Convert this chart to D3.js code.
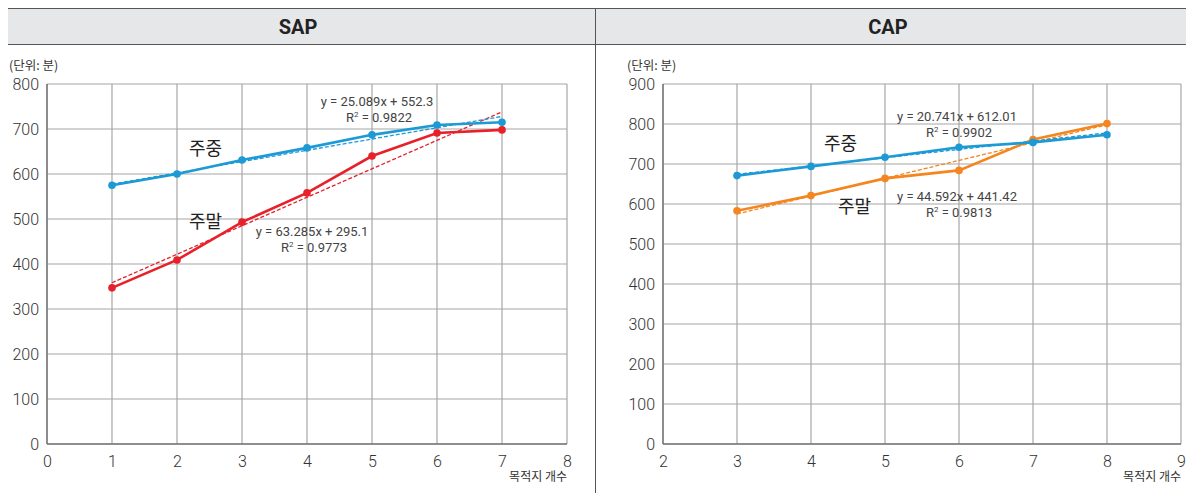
<!DOCTYPE html>
<html>
<head>
<meta charset="utf-8">
<script src="https://cdn.jsdelivr.net/npm/d3@7"></script>
<style>
  body { margin: 0; background: #fff; }
  svg { display: block; font-family: "Roboto", "Noto Sans CJK KR", sans-serif; }
</style>
</head>
<body>
<svg id="chart" width="1186" height="493"></svg>
<script>
// SAP data
const sapX = [1, 2, 3, 4, 5, 6, 7];
const sapWeekday = [575, 600, 631, 658, 687, 709, 715];
const sapWeekend = [347, 409, 493, 558, 640, 691, 698];
const sapWeekdayFit = [25.089, 552.3];
const sapWeekendFit = [63.285, 295.1];
const sapXTicks = [0, 1, 2, 3, 4, 5, 6, 7, 8];
const sapYTicks = [0, 100, 200, 300, 400, 500, 600, 700, 800];

// CAP data
const capX = [3, 4, 5, 6, 7, 8];
const capWeekday = [671, 694, 717, 742, 754, 773];
const capWeekend = [583, 621, 664, 684, 761, 801];
const capWeekdayFit = [20.741, 612.01];
const capWeekendFit = [44.592, 441.42];
const capXTicks = [2, 3, 4, 5, 6, 7, 8, 9];
const capYTicks = [0, 100, 200, 300, 400, 500, 600, 700, 800, 900];

const svg = d3.select("#chart");

// header band
svg.append("rect").attr("x", 8).attr("y", 8).attr("width", 1178).attr("height", 36)
  .attr("fill", "#e6e7e8");
svg.append("line").attr("x1", 8).attr("x2", 1186).attr("y1", 8.5).attr("y2", 8.5)
  .attr("stroke", "#555").attr("stroke-width", 1);
svg.append("line").attr("x1", 8).attr("x2", 1186).attr("y1", 44.5).attr("y2", 44.5)
  .attr("stroke", "#555").attr("stroke-width", 1);
svg.append("line").attr("x1", 595.5).attr("x2", 595.5).attr("y1", 8).attr("y2", 493)
  .attr("stroke", "#555").attr("stroke-width", 1);

function drawPanel(cfg) {
  const x = d3.scaleLinear().domain(cfg.xDomain).range([cfg.left, cfg.right]);
  const y = d3.scaleLinear().domain(cfg.yDomain).range([444, 84]);

  svg.append("text").attr("x", cfg.titleX).attr("y", 34)
    .attr("text-anchor", "middle").attr("font-size", 20).attr("font-weight", "bold")
    .attr("fill", "#222").text(cfg.title);

  svg.append("text").attr("x", cfg.unitX).attr("y", 70)
    .attr("font-size", 12.5).attr("fill", "#333")
    .attr("font-family", "'Noto Sans CJK KR', sans-serif").text("(단위: 분)");

  const g = svg.append("g");

  // grid
  g.selectAll(".vg").data(cfg.xTicks).join("line")
    .attr("x1", d => x(d)).attr("x2", d => x(d)).attr("y1", y.range()[1]).attr("y2", y.range()[0])
    .attr("stroke", "#a6a6a6").attr("stroke-width", 1.2);
  g.selectAll(".hg").data(cfg.yTicks).join("line")
    .attr("x1", cfg.left).attr("x2", cfg.right).attr("y1", d => y(d)).attr("y2", d => y(d))
    .attr("stroke", "#a6a6a6").attr("stroke-width", 1.2);
  g.append("line").attr("x1", cfg.left).attr("x2", cfg.right).attr("y1", 444).attr("y2", 444)
    .attr("stroke", "#777").attr("stroke-width", 1.5);
  g.append("line").attr("x1", cfg.left).attr("x2", cfg.left).attr("y1", 84).attr("y2", 444)
    .attr("stroke", "#777").attr("stroke-width", 1.5);

  // axes
  const xAxis = d3.axisBottom(x).tickValues(cfg.xTicks).tickSize(0).tickPadding(8).tickFormat(d3.format("d"));
  const yAxis = d3.axisLeft(y).tickValues(cfg.yTicks).tickSize(0).tickPadding(8).tickFormat(d3.format("d"));
  const xg = g.append("g").attr("transform", "translate(0,444)").call(xAxis);
  const yg = g.append("g").attr("transform", `translate(${cfg.left},0)`).call(yAxis);
  [xg, yg].forEach(a => {
    a.select(".domain").remove();
    a.selectAll("text").attr("font-size", 16).attr("font-weight", 300).attr("fill", "#333")
      .attr("font-family", "Roboto, sans-serif");
  });
  xg.selectAll("text").attr("dy", "0.95em");

  svg.append("text").attr("x", cfg.right).attr("y", 481).attr("text-anchor", "end")
    .attr("font-size", 12).attr("fill", "#333")
    .attr("font-family", "'Noto Sans CJK KR', sans-serif").text("목적지 개수");

  cfg.series.forEach(s => {
    const pts = cfg.xs.map((v, i) => [v, s.values[i]]);
    const x0 = cfg.xs[0], x1 = cfg.xs[cfg.xs.length - 1];
    // trendline
    g.append("line")
      .attr("x1", x(x0)).attr("y1", y(s.fit[0] * x0 + s.fit[1]))
      .attr("x2", x(x1)).attr("y2", y(s.fit[0] * x1 + s.fit[1]))
      .attr("stroke", s.color).attr("stroke-width", 1.3).attr("stroke-dasharray", "4,2");
    g.append("path").datum(pts)
      .attr("d", d3.line().x(d => x(d[0])).y(d => y(d[1])))
      .attr("fill", "none").attr("stroke", s.color).attr("stroke-width", 2.6);
    g.selectAll(null).data(pts).join("circle")
      .attr("cx", d => x(d[0])).attr("cy", d => y(d[1])).attr("r", 3.8).attr("fill", s.color);
    // equation
    const eq = g.append("text").attr("font-size", 13).attr("fill", "#444").attr("text-anchor", "middle");
    eq.append("tspan").attr("x", s.eqX).attr("y", s.eqY)
      .text(`y = ${s.fit[0]}x + ${s.fit[1]}`);
    const r = eq.append("tspan").attr("x", s.eqX + 2).attr("y", s.eqY + 16);
    r.append("tspan").text("R");
    r.append("tspan").attr("font-size", 8).attr("dy", -5).text("2");
    r.append("tspan").attr("dy", 5).text(` = ${s.r2}`);
    // series label
    g.append("text").attr("x", s.labelX).attr("y", s.labelY)
      .attr("font-size", 18).attr("fill", "#222")
      .attr("font-family", "'Noto Sans CJK KR', sans-serif")
      .text(s.name);
  });
}

drawPanel({
  title: "SAP", titleX: 298, unitX: 9,
  left: 47, right: 567, xDomain: [0, 8], yDomain: [0, 800],
  xTicks: sapXTicks, yTicks: sapYTicks, xs: sapX,
  series: [
    { name: "주말", values: sapWeekend, fit: sapWeekendFit, r2: "0.9773", color: "#e8202a",
      eqX: 312, eqY: 236, labelX: 189, labelY: 228 },
    { name: "주중", values: sapWeekday, fit: sapWeekdayFit, r2: "0.9822", color: "#1c9ad6",
      eqX: 377, eqY: 106, labelX: 189, labelY: 155 }
  ]
});

drawPanel({
  title: "CAP", titleX: 888, unitX: 627,
  left: 663, right: 1181, xDomain: [2, 9], yDomain: [0, 900],
  xTicks: capXTicks, yTicks: capYTicks, xs: capX,
  series: [
    { name: "주말", values: capWeekend, fit: capWeekendFit, r2: "0.9813", color: "#f5851f",
      eqX: 957, eqY: 201, labelX: 838, labelY: 213 },
    { name: "주중", values: capWeekday, fit: capWeekdayFit, r2: "0.9902", color: "#1c9ad6",
      eqX: 957, eqY: 121, labelX: 824, labelY: 150 }
  ]
});
</script>
</body>
</html>
